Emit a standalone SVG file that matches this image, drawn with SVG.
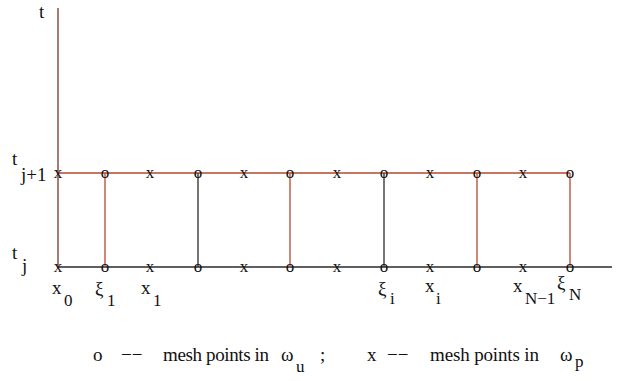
<svg xmlns="http://www.w3.org/2000/svg" width="636" height="381" viewBox="0 0 636 381" font-family="'Liberation Serif', 'DejaVu Serif', serif">
<style>
text{font-family:'Liberation Serif','DejaVu Serif',serif;fill:#111}
.m{font-size:17px;text-anchor:middle}
.lab{font-size:19px}
.sub{font-size:17px}
.red{stroke:#b5482f;stroke-width:1.3;fill:none}
.blk{stroke:#2a2a2a;stroke-width:1.3;fill:none}
</style>
<rect width="636" height="381" fill="#fff"/>
<g id="connectors">
<line class="red" x1="58" y1="8" x2="58" y2="268" style="stroke:#7a3325"/>
<line class="red" x1="58" y1="173" x2="570" y2="173"/>
<line class="blk" x1="58" y1="267" x2="612" y2="267"/>
<line class="red" x1="105" y1="173" x2="105" y2="267"/>
<line class="blk" x1="198" y1="173" x2="198" y2="267"/>
<line class="red" x1="290" y1="173" x2="290" y2="267"/>
<line class="blk" x1="384" y1="173" x2="384" y2="267"/>
<line class="red" x1="477" y1="173" x2="477" y2="267"/>
<line class="red" x1="570" y1="173" x2="570" y2="267"/>
</g>
<g id="marks-top">
<text class="m" x="58" y="178">x</text>
<text class="m" x="105" y="178">o</text>
<text class="m" x="150" y="178">x</text>
<text class="m" x="198" y="178">o</text>
<text class="m" x="244" y="178">x</text>
<text class="m" x="290" y="178">o</text>
<text class="m" x="337" y="178">x</text>
<text class="m" x="384" y="178">o</text>
<text class="m" x="430" y="178">x</text>
<text class="m" x="477" y="178">o</text>
<text class="m" x="523" y="178">x</text>
<text class="m" x="570" y="178">o</text>
</g>
<g id="marks-bottom">
<text class="m" x="58" y="272">x</text>
<text class="m" x="105" y="272">o</text>
<text class="m" x="150" y="272">x</text>
<text class="m" x="198" y="272">o</text>
<text class="m" x="244" y="272">x</text>
<text class="m" x="290" y="272">o</text>
<text class="m" x="337" y="272">x</text>
<text class="m" x="384" y="272">o</text>
<text class="m" x="430" y="272">x</text>
<text class="m" x="477" y="272">o</text>
<text class="m" x="523" y="272">x</text>
<text class="m" x="570" y="272">o</text>
</g>
<g id="axis-labels">
<text class="lab" x="39" y="18">t</text>
<text class="lab" x="12" y="165">t</text>
<text class="lab" x="21" y="181">j+1</text>
<text class="lab" x="12" y="259">t</text>
<text class="lab" x="22" y="272">j</text>
</g>
<g id="point-labels">
<text class="lab" x="52" y="294">x</text><text class="sub" x="64" y="306">0</text>
<text class="lab" x="95" y="295">ξ</text><text class="sub" x="107" y="306">1</text>
<text class="lab" x="141" y="294">x</text><text class="sub" x="153" y="306">1</text>
<text class="lab" x="378" y="295">ξ</text><text class="sub" x="390" y="304">i</text>
<text class="lab" x="425" y="292">x</text><text class="sub" x="436" y="304">i</text>
<text class="lab" x="513" y="292">x</text><text class="sub" x="525" y="304">N−1</text>
<text class="lab" x="557" y="289">ξ</text><text class="sub" x="569" y="300">N</text>
</g>
<g id="legend">
<text class="lab" x="93" y="361">o</text>
<text class="lab" x="121" y="361">−−</text>
<text class="lab" x="163" y="361" textLength="106" lengthAdjust="spacing">mesh points in</text>
<text class="lab" x="281" y="361">ω</text><text class="sub" x="296" y="372">u</text>
<text class="lab" x="320" y="361">;</text>
<text class="lab" x="367" y="361">x</text>
<text class="lab" x="387" y="361">−−</text>
<text class="lab" x="430" y="361" textLength="109" lengthAdjust="spacing">mesh points in</text>
<text class="lab" x="560" y="361">ω</text><text class="sub" x="575" y="367">p</text>
</g>
</svg>
